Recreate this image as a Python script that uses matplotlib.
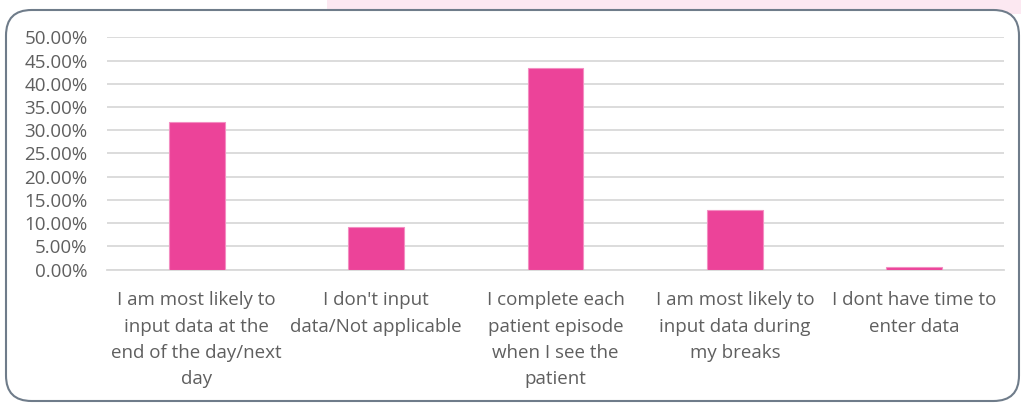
import matplotlib
matplotlib.use("Agg")
import matplotlib.pyplot as plt
from matplotlib.patches import FancyBboxPatch, Rectangle
from matplotlib.ticker import FuncFormatter, MultipleLocator

categories = [
    "I am most likely to\ninput data at the\nend of the day/next\nday",
    "I don't input\ndata/Not applicable",
    "I complete each\npatient episode\nwhen I see the\npatient",
    "I am most likely to\ninput data during\nmy breaks",
    "I dont have time to\nenter data",
]
values = [31.7, 9.2, 43.5, 12.8, 0.5]

W, H = 1021, 403
fig = plt.figure(figsize=(W / 100, H / 100), dpi=100)
fig.patch.set_facecolor("white")

# decorative pink strip behind the frame
fig.patches.append(Rectangle((327 / W, 1 - 14 / H), 1 - 327 / W, 14 / H,
                             transform=fig.transFigure, facecolor="#fce8f1",
                             edgecolor="none", zorder=0))
# rounded frame
fig.patches.append(FancyBboxPatch((6 / W, 2 / H), (1013 / W), (391 / H),
                                  boxstyle="round,pad=0,rounding_size=0.025",
                                  mutation_aspect=W / H,
                                  transform=fig.transFigure, facecolor="white",
                                  edgecolor="#6f7c8a", linewidth=1.5, zorder=1))

ax = fig.add_axes([107 / W, 133.3 / H, (1004 - 107) / W, 232.4 / H])
ax.set_zorder(2)
ax.patch.set_alpha(0)
x = range(len(values))
ax.bar(x, values, width=0.31, color="#ec4399", edgecolor="#f38ec2",
       linewidth=0.8, zorder=3)
ax.set_xlim(-0.5, len(values) - 0.5)
ax.set_ylim(0, 50)
ax.yaxis.set_major_locator(MultipleLocator(5))
ax.yaxis.set_major_formatter(FuncFormatter(lambda v, p: f"{v:.2f}%"))
ax.grid(axis="y", color="#d9d9d9", linewidth=1.3, zorder=0)
ax.set_axisbelow(True)
for s in ["top", "right", "left"]:
    ax.spines[s].set_visible(False)
ax.spines["bottom"].set_color("#d9d9d9")
ax.spines["bottom"].set_linewidth(1.3)
ax.set_xticks(list(x))
ax.set_xticklabels(categories, linespacing=1.6)
ax.tick_params(axis="both", length=0, colors="#595959", labelsize=13.5)
ax.tick_params(axis="y", pad=14)
ax.tick_params(axis="x", pad=15.5)
for lab in ax.get_xticklabels() + ax.get_yticklabels():
    lab.set_fontfamily("Open Sans")
    lab.set_color("#5f5f5f")

fig.savefig("out.png", dpi=100)
